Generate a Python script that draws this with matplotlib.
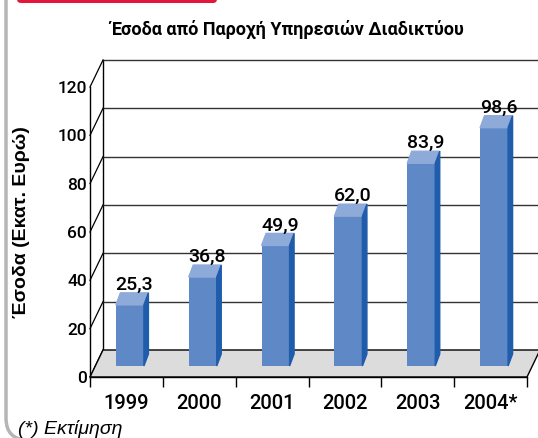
import matplotlib
matplotlib.use('Agg')
import matplotlib.pyplot as plt
from matplotlib.patches import FancyBboxPatch, Polygon, PathPatch
from matplotlib.path import Path

# ---- data ----
years = ['1999', '2000', '2001', '2002', '2003', '2004*']
revenue = [25.3, 36.8, 49.9, 62.0, 83.9, 98.6]
value_labels = ['25,3', '36,8', '49,9', '62,0', '83,9', '98,6']
yticks = [0, 20, 40, 60, 80, 100, 120]
title = 'Έσοδα από Παροχή Υπηρεσιών Διαδικτύου'
ylabel = 'Έσοδα (Εκατ. Ευρώ)'
footnote = '(*) Εκτίμηση'

# ---- style ----
FRONT = '#5f88c6'
TOP = '#8eaad9'
SIDE = '#1f5cab'
FLOOR = '#dcdcdc'
GRID = '#333333'
NUM = ['Roboto', 'Liberation Sans', 'DejaVu Sans']
SANS = ['Liberation Sans', 'DejaVu Sans']

W, H = 538, 438
fig = plt.figure(figsize=(W / 100, H / 100), dpi=100)
fig.patch.set_facecolor('white')


def disp(x, y):
    return (x, H - y)


# gray frame with rounded lower-left corner (pixel coords)
verts = [disp(6, -5), disp(6, 418), disp(6, 440), disp(28, 440), disp(600, 440)]
codes = [Path.MOVETO, Path.LINETO, Path.CURVE3, Path.CURVE3, Path.LINETO]
fig.patches.append(PathPatch(Path(verts, codes), transform=None, fc='none',
                             ec='#b5b5b5', lw=2.5))
# red tab at top
fig.patches.append(FancyBboxPatch(disp(17, 3), 200, 30,
                                  boxstyle='round,pad=0,rounding_size=4',
                                  transform=None, fc='#e3163c', ec='none'))

L, R, T, B = 90, 527, 87, 377
ax = fig.add_axes([L / W, 1 - B / H, (R - L) / W, (B - T) / H])
ax.set_xlim(0, 6)
ax.set_ylim(0, 120)
ax.patch.set_visible(False)
px_x = 6 / (R - L)
px_y = 120 / (B - T)
DX, DY = 13 * px_x, 27 * px_y

# back wall
ax.plot([DX, DX], [DY, yticks[-1] + DY], color='black', lw=1, clip_on=False, zorder=1)
for v in yticks[1:]:
    ax.plot([DX, 6 + DX + 1], [v + DY, v + DY], color=GRID, lw=1, clip_on=False, zorder=1)
# left wall
for v in yticks:
    ax.plot([0, DX], [v, v + DY], color='black', lw=0.9, clip_on=False, zorder=1)
# floor
ax.add_patch(Polygon([(0, 0), (6, 0), (6 + DX, DY), (DX, DY)], closed=True,
                     fc=FLOOR, ec='black', lw=1, clip_on=False, zorder=2))

# bars
off_x = 3.5 * px_x
bot = 11 * px_y
bw = 28 * px_x
bdx, bdy = 4.5 * px_x, 12 * px_y
xl = [i + 0.5 - bw / 2 + off_x for i in range(len(years))]
ax.bar(xl, revenue, width=bw, bottom=bot, align='edge', color=FRONT, zorder=3, clip_on=False)
for x0, v, lab in zip(xl, revenue, value_labels):
    top = v + bot
    ax.fill([x0, x0 + bw, x0 + bw + bdx, x0 + bdx], [top, top, top + bdy, top + bdy],
            color=TOP, zorder=3, clip_on=False)
    ax.fill([x0 + bw, x0 + bw + bdx, x0 + bw + bdx, x0 + bw],
            [bot, bot + bdy, top + bdy, top], color=SIDE, zorder=3, clip_on=False)
    ax.text(x0 + bw / 2 + 4.5 * px_x, top + bdy + 3 * px_y, lab, ha='center', va='baseline',
            fontsize=14, family=NUM, fontweight='medium', zorder=5)

# axes / ticks
for s in ['top', 'right']:
    ax.spines[s].set_visible(False)
for s in ['left', 'bottom']:
    ax.spines[s].set_color('black')
    ax.spines[s].set_linewidth(1)
    ax.spines[s].set_zorder(4)
ax.set_yticks(yticks)
ax.set_yticklabels([str(v) for v in yticks], family=NUM, fontsize=12.5, fontweight='medium')
ax.tick_params(axis='y', length=0, pad=2)
ax.set_xticks(range(7))
ax.set_xticklabels([])
ax.tick_params(axis='x', which='major', length=7, width=1, direction='out', color='black')
ax.set_xticks([i + 0.5 for i in range(6)], minor=True)
ax.set_xticklabels(years, minor=True, family=NUM, fontsize=14.5, fontweight='medium')
ax.tick_params(axis='x', which='minor', length=0, pad=12)

fig.text(287 / W, 1 - 29 / H, title, ha='center', va='center', fontsize=13,
         fontweight='bold', family=NUM)
fig.text(22 / W, 1 - 222 / H, ylabel, ha='center', va='center', rotation=90,
         fontsize=14, fontweight='bold', family=SANS)
fig.text(18 / W, 1 - 434 / H, footnote, ha='left', va='baseline', fontsize=14,
         style='italic', family=SANS)

fig.savefig('out.png', dpi=100)
